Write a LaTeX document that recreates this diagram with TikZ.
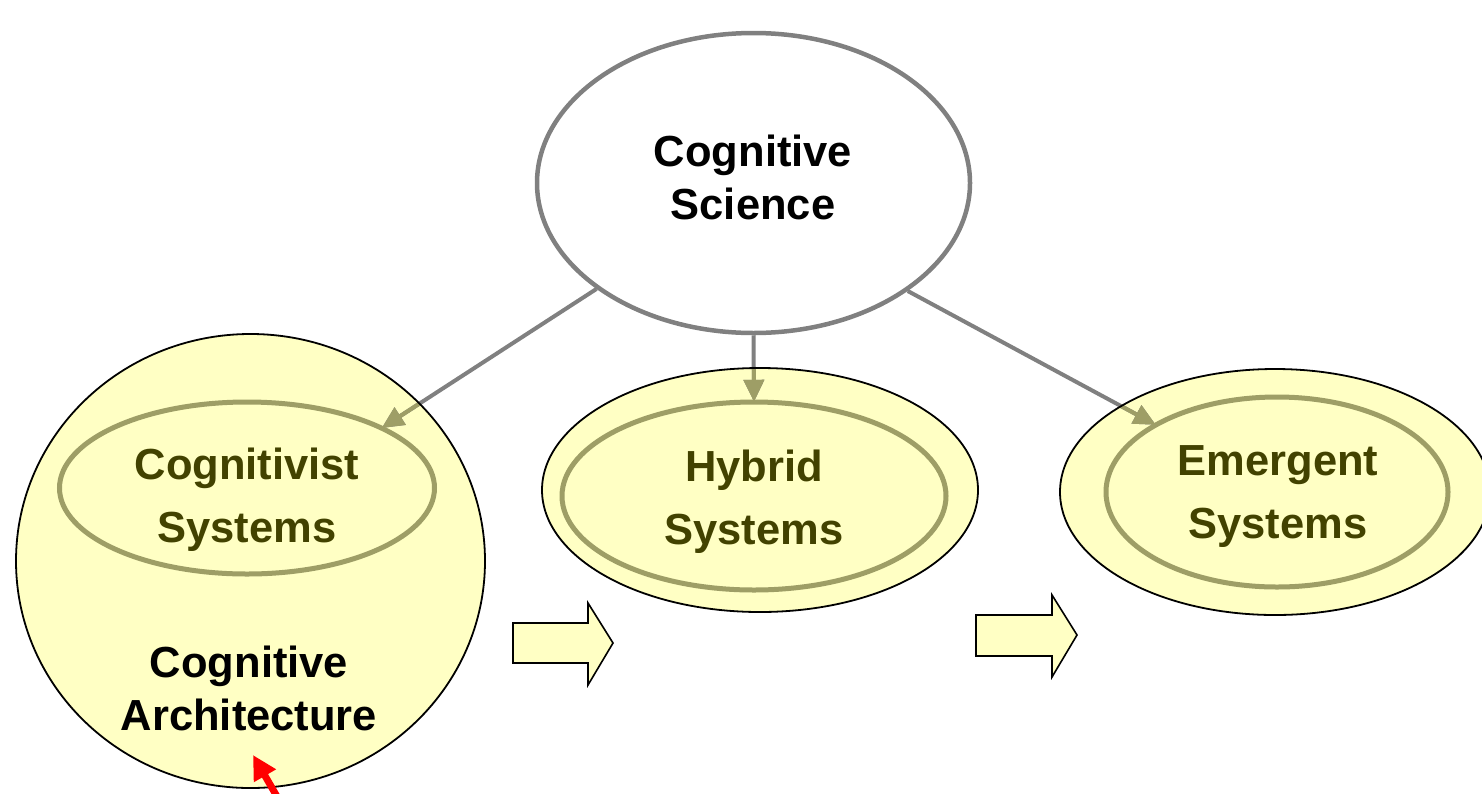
\documentclass[tikz,border=0pt]{standalone}
\usepackage{fontspec}
\setmainfont{Liberation Sans}
\usetikzlibrary{shapes.geometric,arrows.meta}
\definecolor{fillY}{RGB}{255,255,196}
\definecolor{olv}{RGB}{158,158,102}
\definecolor{olvtext}{RGB}{66,66,0}
\definecolor{grayline}{RGB}{128,128,128}
\begin{document}
\begin{tikzpicture}[x=1pt,y=-1pt,
  outerfill/.style={ellipse,fill=fillY,inner sep=0pt,outer sep=0pt},
  outerline/.style={draw=black,line width=1.8pt},
  innerell/.style={ellipse,draw=olv,line width=5pt,inner sep=0pt},
  topell/.style={ellipse,draw=grayline,line width=4.5pt,fill=white,inner sep=0pt},
  lbl/.style={font=\bfseries\fontsize{43.5}{53}\selectfont,align=center,inner sep=0pt},
  ilbl/.style={font=\bfseries\fontsize{43.5}{63}\selectfont,align=center,text=olvtext,inner sep=0pt},
  conn/.style={line width=4pt,-{Triangle[length=22pt,width=20pt]}},
  blockarrow/.style={draw=black,line width=1.6pt,fill=fillY,line join=miter},
  redarrow/.style={draw=red,line width=7pt,-{Triangle[length=24pt,width=24pt]}}
]
\useasboundingbox (0,0) rectangle (1482,793);
% outer shapes (fill)
\node[outerfill,minimum width=469pt,minimum height=454pt] (cogA) at (250.5,561) {};
\node[outerfill,minimum width=436pt,minimum height=244pt] (hybo) at (760,490) {};
\node[outerfill,minimum width=430pt,minimum height=246pt] (emgo) at (1275,492) {};
% top ellipse
\node[topell,minimum width=433pt,minimum height=300pt] (cs) at (753.5,183) {};
% inner ellipses (positions only, drawn later)
\path (247,488) node[ellipse,inner sep=0pt,minimum width=375pt,minimum height=172pt] (cogi) {};
\path (754,496) node[ellipse,inner sep=0pt,minimum width=384pt,minimum height=188pt] (hybi) {};
\path (1277,492) node[ellipse,inner sep=0pt,minimum width=342pt,minimum height=190pt] (emgi) {};
% connectors (gray outside)
\draw[conn,grayline] (cs.214.6) -- (cogi.24.9);
\draw[conn,grayline] (cs.south) -- (hybi.north);
\draw[conn,grayline] (cs.-35.3) -- (emgi.151.5);
% connectors (olive inside the yellow shapes)
\begin{scope}
\clip (cogA.center) ellipse [x radius=234.5pt,y radius=227pt]
      (hybo.center) ellipse [x radius=218pt,y radius=122pt]
      (emgo.center) ellipse [x radius=215pt,y radius=123pt];
\draw[conn,olv] (cs.214.6) -- (cogi.24.9);
\draw[conn,olv] (cs.south) -- (hybi.north);
\draw[conn,olv] (cs.-35.3) -- (emgi.151.5);
\end{scope}
% outer strokes
\draw[outerline] (cogA.center) ellipse [x radius=234.5pt,y radius=227pt];
\draw[outerline] (hybo.center) ellipse [x radius=218pt,y radius=122pt];
\draw[outerline] (emgo.center) ellipse [x radius=215pt,y radius=123pt];
% inner strokes
\draw[draw=olv,line width=5pt] (cogi.center) ellipse [x radius=187.5pt,y radius=86pt];
\draw[draw=olv,line width=5pt] (hybi.center) ellipse [x radius=192pt,y radius=94pt];
\draw[draw=olv,line width=5pt] (emgi.center) ellipse [x radius=171pt,y radius=95pt];
% labels
\node[lbl] (cst) at (753,177) {Cognitive\\Science};
\node[lbl] (arch) at (249,688) {Cognitive\\Architecture};
\node[ilbl] (cogt) at (247,500) {Cognitivist\\Systems};
\node[ilbl] (hybt) at (754,502) {Hybrid\\Systems};
\node[ilbl] (emgt) at (1278,497) {Emergent\\Systems};
% block arrows
\draw[blockarrow] (513,623) -- (588,623) -- (588,603) -- (613,643) -- (588,685) -- (588,663) -- (513,663) -- cycle;
\draw[blockarrow] (976,615) -- (1052,615) -- (1052,595) -- (1077,635) -- (1052,677) -- (1052,656) -- (976,656) -- cycle;
% red arrow
\coordinate (rtail) at (279,800);
\coordinate (rtip) at (253,755);
\draw[redarrow] (rtail) -- (rtip);
\end{tikzpicture}
\end{document}
